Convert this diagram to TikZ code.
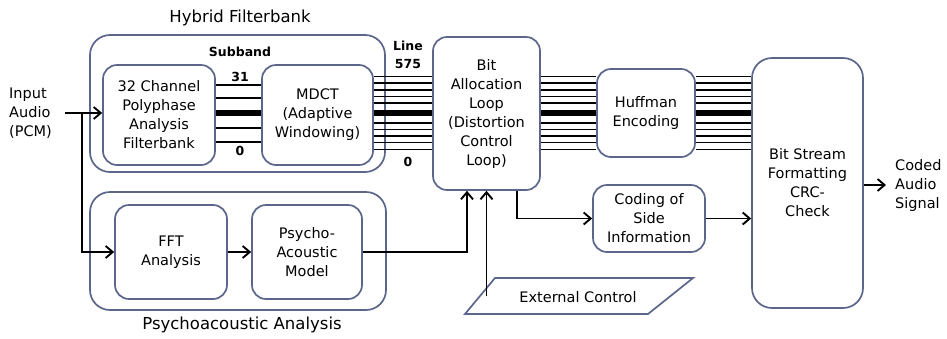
\documentclass[tikz,border=0pt]{standalone}
\usepackage{fontspec}
\setmainfont{DejaVu Sans}
\usetikzlibrary{arrows.meta,calc}
\definecolor{boxc}{RGB}{92,102,138}
\newcommand{\fsbox}{\fontsize{14.5}{19}\selectfont}
\newcommand{\fstitle}{\fontsize{16.5}{20}\selectfont}
\newcommand{\fssmall}{\fontsize{12.5}{18}\selectfont\bfseries}
\tikzset{
  box/.style={draw=boxc, line width=1.7pt, rounded corners=14pt, align=center, inner sep=0pt, font=\fsbox},
  outerbox/.style={draw=boxc, line width=1.7pt, rounded corners=20pt, inner sep=0pt},
  bus/.style={line width=1.9pt},
  thickbus/.style={line width=5.5pt},
  arr/.style={line width=1.9pt, -{Straight Barb[length=7pt,width=12pt,line width=1.9pt]}},
  lbl/.style={inner sep=0pt, font=\fsbox, align=left},
  ttl/.style={inner sep=0pt, font=\fstitle},
  sm/.style={inner sep=0pt, font=\fssmall},
}
\begin{document}
\begin{tikzpicture}[x=1pt,y=-1pt]
\useasboundingbox (0,0) rectangle (947,338);
% outer groups
\node[outerbox, minimum width=295, minimum height=137] (hybrid) at (237.5,103.5) {};
\node[outerbox, minimum width=296, minimum height=118] (psy) at (238,251) {};
\node[ttl] (hybridt) at (240,18) {Hybrid Filterbank};
\node[ttl] (psyt) at (242,325) {Psychoacoustic Analysis};
% boxes
\node[box, minimum width=112, minimum height=100] (poly) at (159,115) {32 Channel\\Polyphase\\Analysis\\Filterbank};
\node[box, minimum width=111, minimum height=100] (mdct) at (317.5,115) {MDCT\\(Adaptive\\Windowing)};
\node[box, minimum width=107, minimum height=153] (bitalloc) at (486.5,113.5) {Bit\\Allocation\\Loop\\(Distortion\\Control\\Loop)};
\node[box, minimum width=98, minimum height=88] (huff) at (646,113) {Huffman\\Encoding};
\node[box, minimum width=111, minimum height=250, rounded corners=20pt] (bitstream) at (807.5,183) {Bit Stream\\Formatting\\CRC-\\Check};
\node[box, minimum width=112, minimum height=94] (fft) at (171,252) {FFT\\Analysis};
\node[box, minimum width=110, minimum height=94] (pmodel) at (307,252) {Psycho-\\Acoustic\\Model};
\node[box, minimum width=112, minimum height=67] (side) at (649,218.5) {Coding of\\Side\\Information};
% external control
\draw[draw=boxc, line width=1.7pt, fill=white] (465,314) -- (495,278) -- (693,278) -- (648,314) -- cycle;
\node[lbl] (ext) at (578,297) {External Control};
% labels
\node[lbl, anchor=west] (inlbl) at (9,113) {Input\\Audio\\(PCM)};
\node[lbl, anchor=west] (outlbl) at (895,185) {Coded\\Audio\\Signal};
\node[sm] (subt) at (240,52) {Subband};
\node[sm] (s31) at (240,77) {31};
\node[sm] (s0) at (240,151) {0};
\node[sm] (linet) at (408,46) {Line};
\node[sm] (l575) at (408,64) {575};
\node[sm] (l0) at (408,162) {0};
% subband bus
\foreach \y in {85,98,128,142} \draw[bus] (poly.east |- 0,\y) -- (mdct.west |- 0,\y);
\draw[thickbus] (poly.east |- 0,113) -- (mdct.west |- 0,113);
% line buses
\foreach \y in {76.5,83,90,96.5,103,123,129.5,136,142.5,149.5} {
  \draw[bus] (mdct.east |- 0,\y) -- (bitalloc.west |- 0,\y);
  \draw[bus] (bitalloc.east |- 0,\y) -- (huff.west |- 0,\y);
  \draw[bus] (huff.east |- 0,\y) -- (bitstream.west |- 0,\y);
}
\draw[thickbus] (mdct.east |- 0,113) -- (bitalloc.west |- 0,113);
\draw[thickbus] (bitalloc.east |- 0,113) -- (huff.west |- 0,113);
\draw[thickbus] (huff.east |- 0,113) -- (bitstream.west |- 0,113);
% arrows
\coordinate (instart) at (65,113);
\coordinate (split) at (82,113);
\coordinate (extstart) at (486.5,296);
\coordinate (outend) at (886,185);
\draw[arr] (instart) -- (poly.west |- instart);
\draw[arr] (split) |- (fft.west);
\draw[arr] (fft.east) -- (pmodel.west);
\draw[arr] (pmodel.east) -| (bitalloc.south -| 467,0);
\draw[arr] (extstart) -- (bitalloc.south);
\draw[arr] (bitalloc.south -| 517,0) |- (side.west);
\draw[arr] (side.east) -- (side.east -| bitstream.west);
\draw[arr] (bitstream.east |- outend) -- (outend);
\end{tikzpicture}
\end{document}
